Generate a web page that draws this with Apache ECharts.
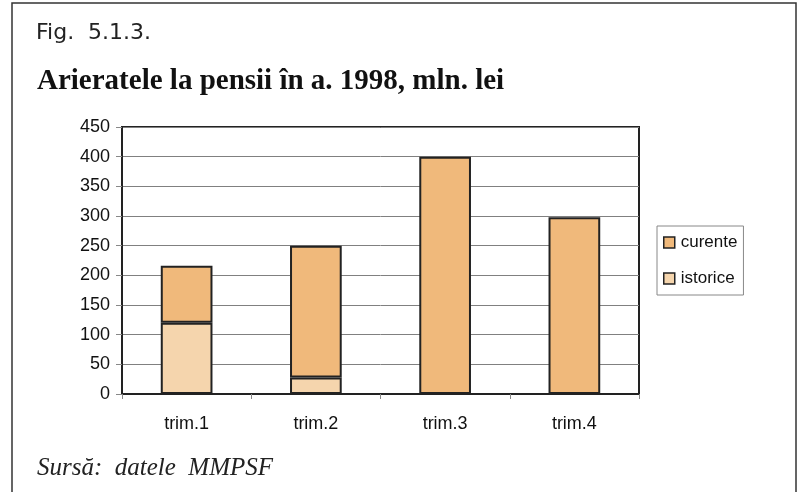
<!DOCTYPE html>
<html>
<head>
<meta charset="utf-8">
<script src="https://cdn.jsdelivr.net/npm/echarts@6/dist/echarts.min.js"></script>
<style>
  html, body { margin: 0; padding: 0; background: #fff; }
  #chart { width: 797px; height: 492px; }
</style>
</head>
<body>
<div id="chart"></div>
<script>
// date arierate la pensii, mln. lei
var categories = ['trim.1', 'trim.2', 'trim.3', 'trim.4'];
var istorice = [120, 28, 0, 0];
var curente = [96, 222, 400, 298];
var yTicks = [0, 50, 100, 150, 200, 250, 300, 350, 400, 450];

var chart = echarts.init(document.getElementById('chart'));
chart.setOption({
  backgroundColor: '#fff',
  animation: false,
  title: [
    {
      text: 'Fig.  5.1.3.',
      left: 31, top: 17,
      textStyle: { fontFamily: 'DejaVu Sans', fontWeight: 'normal', fontSize: 22, color: '#222' }
    },
    {
      text: 'Arieratele la pensii în a. 1998, mln. lei',
      left: 32, top: 62,
      textStyle: { fontFamily: 'Liberation Serif', fontWeight: 'bold', fontSize: 29, color: '#111' }
    },
    {
      text: 'Sursă:  datele  MMPSF',
      left: 32, top: 451,
      textStyle: { fontFamily: 'Liberation Serif', fontStyle: 'italic', fontWeight: 'normal', fontSize: 25, color: '#222' }
    }
  ],
  graphic: [{
    type: 'polyline',
    shape: { points: [[12, 492], [12, 3], [796, 3], [796, 492]] },
    style: { stroke: '#333', lineWidth: 1.5, fill: null }
  }],
  legend: {
    data: ['curente', 'istorice'],
    orient: 'vertical',
    left: 657, top: 226,
    padding: [8, 6, 8, 6],
    itemGap: 19,
    itemWidth: 11, itemHeight: 11,
    borderColor: '#888', borderWidth: 1,
    icon: 'rect',
    itemStyle: { borderColor: '#222', borderWidth: 1.5 },
    textStyle: { fontFamily: 'Liberation Sans', fontSize: 17, color: '#111', padding: [0, 0, 0, 1] }
  },
  grid: {
    left: 122, top: 127, right: 158, bottom: 98,
    show: true, borderColor: '#222', borderWidth: 2,
    containLabel: false
  },
  xAxis: {
    type: 'category',
    data: categories,
    axisLine: { lineStyle: { color: '#222', width: 2 } },
    axisTick: { show: true, alignWithLabel: false, length: 5, lineStyle: { color: '#888' } },
    axisLabel: { fontFamily: 'Liberation Sans', fontSize: 18, color: '#111', margin: 21 }
  },
  yAxis: {
    type: 'value',
    min: yTicks[0], max: yTicks[yTicks.length - 1], interval: 50,
    axisLine: { show: true, lineStyle: { color: '#222', width: 2 } },
    axisTick: { show: true, length: 6, lineStyle: { color: '#888' } },
    axisLabel: { fontFamily: 'Liberation Sans', fontSize: 18, color: '#111', margin: 12 },
    splitLine: { lineStyle: { color: '#808080', width: 1 } }
  },
  series: [
    {
      name: 'istorice',
      type: 'bar',
      stack: 'total',
      barWidth: '40%',
      data: istorice,
      itemStyle: { color: '#F5D5AD', borderColor: '#222', borderWidth: 2 }
    },
    {
      name: 'curente',
      type: 'bar',
      stack: 'total',
      barWidth: '40%',
      data: curente,
      itemStyle: { color: '#F0B97B', borderColor: '#222', borderWidth: 2 }
    }
  ]
});
</script>
</body>
</html>
